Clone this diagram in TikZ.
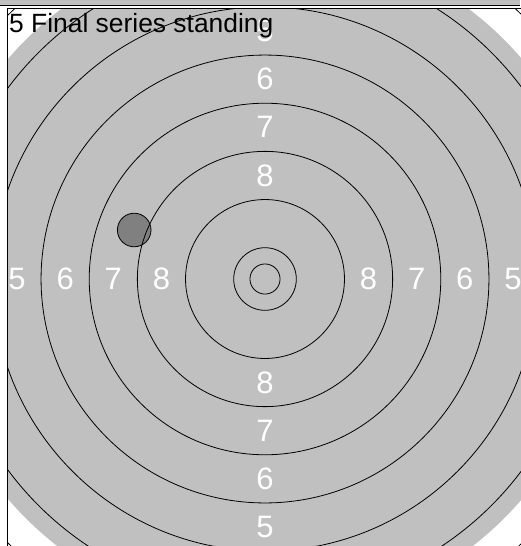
\documentclass[tikz,border=0pt]{standalone}
\usepackage{fontspec}
\setmainfont{Liberation Sans}
\usetikzlibrary{positioning}
\definecolor{tgtgray}{RGB}{192,192,192}
\tikzset{
  ring/.style={draw=black, line width=0.8pt},
  ringlabel/.style={text=white, inner sep=0pt, font=\fontsize{31}{31}\selectfont},
  hitmark/.style={circle, draw=black, line width=0.8pt, fill=black, fill opacity=0.33,
    minimum size=33.6pt, inner sep=0pt},
  frameline/.style={draw=black, line width=1pt}
}

\begin{document}
\begin{tikzpicture}[x=1pt, y=-1pt]
  \useasboundingbox (0,0) rectangle (520,546);
  % --- PREVIOUS PANEL (bottom strip) ---
  \fill[tgtgray] (0,0) rectangle (520,5.8);
  \draw[frameline] (0,5.8) -- (520,5.8);

  % --- TARGET PANEL ---
  \coordinate (c) at (265,279);
  \begin{scope}
    \clip (7.5,8) rectangle (530,560);
    \fill[tgtgray] (c) circle (338.3pt);
    \draw[ring] (c) circle (15.05pt);
    \foreach \r in {5.2,13.2,...,61.2}
      \draw[ring] (c) circle ({\r*6.02pt});
    \foreach \k/\r in {8/17.2, 7/25.2, 6/33.2, 5/41.2} {
      \node[ringlabel] (lbl-w\k) at ({265-\r*6.02},279) {\k};
      \node[ringlabel] (lbl-e\k) at ({265+\r*6.02},279) {\k};
      \node[ringlabel] (lbl-n\k) at (265,{279-\r*6.02}) {\k};
      \node[ringlabel] (lbl-s\k) at (265,{279+\r*6.02}) {\k};
    }
    \node[hitmark] (hit) at (134.2,230) {};
  \end{scope}
  \draw[frameline] (7.5,560) -- (7.5,8) -- (530,8);
  \node[anchor=base west, inner sep=0pt, font=\fontsize{26.4}{26.4}\selectfont] (title) at (9,32) {5 Final series standing};
\end{tikzpicture}
\end{document}
